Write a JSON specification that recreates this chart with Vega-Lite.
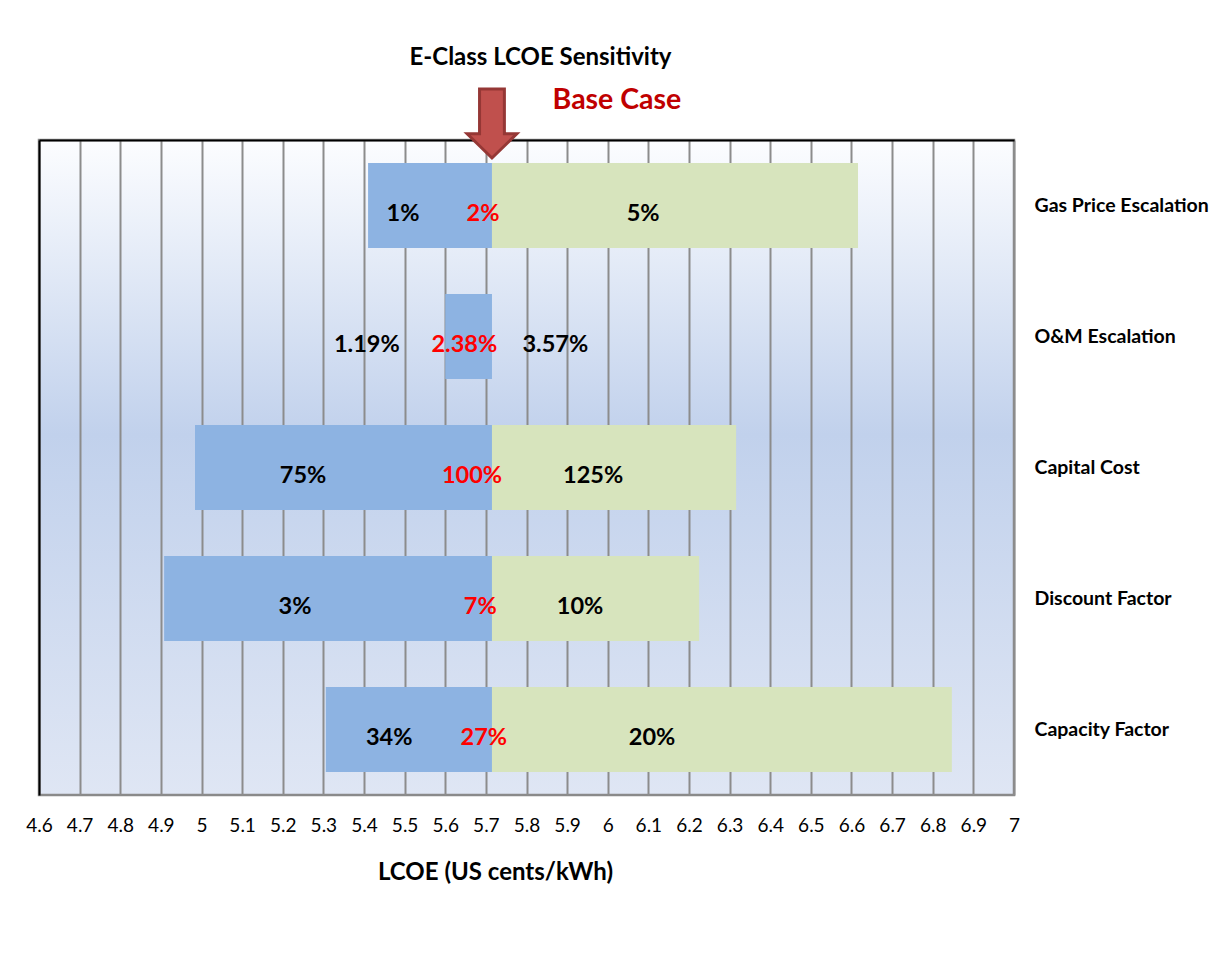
{
  "$schema": "https://vega.github.io/schema/vega-lite/v6.json",
  "width": 975,
  "height": 655,
  "autosize": {"type": "none"},
  "padding": {"left": 39, "top": 140, "right": 202, "bottom": 159},
  "background": "white",
  "config": {
    "font": "Lato",
    "view": {
      "stroke": "#8a8a8a",
      "strokeWidth": 2.5,
      "fill": {
        "gradient": "linear",
        "x1": 0, "y1": 0, "x2": 0, "y2": 1,
        "stops": [
          {"offset": 0, "color": "#fcfdff"},
          {"offset": 0.45, "color": "#c1d1ec"},
          {"offset": 1, "color": "#dfe6f4"}
        ]
      }
    }
  },
  "title": {
    "text": "E-Class LCOE Sensitivity",
    "font": "Lato",
    "fontSize": 24,
    "fontWeight": "bold",
    "color": "#000000",
    "anchor": "middle",
    "dx": 14,
    "offset": 13
  },
  "datasets": {
    "bars": [
      {"factor": "Gas Price Escalation", "side": "low", "start": 5.41, "end": 5.715},
      {"factor": "Gas Price Escalation", "side": "high", "start": 5.715, "end": 6.616},
      {"factor": "O&M Escalation", "side": "low", "start": 5.6, "end": 5.715},
      {"factor": "Capital Cost", "side": "low", "start": 4.984, "end": 5.715},
      {"factor": "Capital Cost", "side": "high", "start": 5.715, "end": 6.316},
      {"factor": "Discount Factor", "side": "low", "start": 4.908, "end": 5.715},
      {"factor": "Discount Factor", "side": "high", "start": 5.715, "end": 6.225},
      {"factor": "Capacity Factor", "side": "low", "start": 5.306, "end": 5.715},
      {"factor": "Capacity Factor", "side": "high", "start": 5.715, "end": 6.847}
    ],
    "labels": [
      {"factor": "Gas Price Escalation", "role": "low", "label": "1%", "pos": 5.496},
      {"factor": "Gas Price Escalation", "role": "base", "label": "2%", "pos": 5.693},
      {"factor": "Gas Price Escalation", "role": "high", "label": "5%", "pos": 6.087},
      {"factor": "O&M Escalation", "role": "low", "label": "1.19%", "pos": 5.407},
      {"factor": "O&M Escalation", "role": "base", "label": "2.38%", "pos": 5.647},
      {"factor": "O&M Escalation", "role": "high", "label": "3.57%", "pos": 5.871},
      {"factor": "Capital Cost", "role": "low", "label": "75%", "pos": 5.25},
      {"factor": "Capital Cost", "role": "base", "label": "100%", "pos": 5.666},
      {"factor": "Capital Cost", "role": "high", "label": "125%", "pos": 5.964},
      {"factor": "Discount Factor", "role": "low", "label": "3%", "pos": 5.23},
      {"factor": "Discount Factor", "role": "base", "label": "7%", "pos": 5.686},
      {"factor": "Discount Factor", "role": "high", "label": "10%", "pos": 5.932},
      {"factor": "Capacity Factor", "role": "low", "label": "34%", "pos": 5.462},
      {"factor": "Capacity Factor", "role": "base", "label": "27%", "pos": 5.695},
      {"factor": "Capacity Factor", "role": "high", "label": "20%", "pos": 6.109}
    ],
    "base": [
      {"factor": "Gas Price Escalation", "base": 5.715, "note": "Base Case"}
    ]
  },
  "layer": [
    {
      "data": {"name": "bars"},
      "transform": [{"filter": "datum.side === 'low'"}],
      "mark": {"type": "bar", "color": "#8db3e2", "cornerRadius": 0},
      "encoding": {
        "y": {
          "field": "factor", "type": "nominal",
          "scale": {
            "domain": ["Gas Price Escalation", "O&M Escalation", "Capital Cost", "Discount Factor", "Capacity Factor"],
            "paddingInner": 0.35, "paddingOuter": 0.175
          },
          "axis": {
            "orient": "right", "title": null, "domain": false, "ticks": false,
            "labelPadding": 20, "labelAlign": "left", "labelFont": "Lato",
            "labelFontSize": 19.5, "labelFontWeight": "bold", "labelColor": "#000000",
            "labelLimit": 300
          }
        },
        "x": {
          "field": "start", "type": "quantitative",
          "scale": {"domain": [4.6, 7], "nice": false, "zero": false},
          "axis": {
            "orient": "bottom",
            "values": [4.6, 4.7, 4.8, 4.9, 5, 5.1, 5.2, 5.3, 5.4, 5.5, 5.6, 5.7, 5.8, 5.9, 6, 6.1, 6.2, 6.3, 6.4, 6.5, 6.6, 6.7, 6.8, 6.9, 7],
            "format": "~g",
            "grid": true, "gridColor": "#8c8c8c", "gridWidth": 2, "gridOpacity": 1,
            "domain": false, "ticks": false,
            "labelPadding": 21, "labelFont": "Lato", "labelFontSize": 19, "labelColor": "#000000",
            "labelFlush": false,
            "title": "LCOE (US cents/kWh)",
            "titleFont": "Lato", "titleFontSize": 24, "titleFontWeight": "bold", "titleColor": "#000000",
            "titleX": 456, "titleY": 77, "titleAlign": "center", "titleBaseline": "middle", "titleAnchor": null
          }
        },
        "x2": {"field": "end"}
      }
    },
    {
      "data": {"name": "bars"},
      "transform": [{"filter": "datum.side === 'high'"}],
      "mark": {"type": "bar", "color": "#d7e4bd"},
      "encoding": {
        "y": {
          "field": "factor", "type": "nominal",
          "axis": {"orient": "left", "domain": true, "domainColor": "#000000", "domainWidth": 2, "labels": false, "ticks": false, "grid": false, "title": null}
        },
        "x": {
          "field": "start", "type": "quantitative",
          "axis": {"orient": "top", "domain": true, "domainColor": "#000000", "domainWidth": 2, "labels": false, "ticks": false, "grid": false, "title": null}
        },
        "x2": {"field": "end"}
      }
    },
    {
      "data": {"name": "labels"},
      "mark": {"type": "text", "font": "Lato", "fontSize": 23.5, "fontWeight": "bold", "align": "center", "baseline": "middle", "dy": 8},
      "encoding": {
        "y": {"field": "factor", "type": "nominal", "axis": null},
        "x": {"field": "pos", "type": "quantitative", "axis": null},
        "text": {"field": "label"},
        "color": {
          "field": "role", "type": "nominal",
          "scale": {"domain": ["low", "base", "high"], "range": ["#000000", "#ff0000", "#000000"]},
          "legend": null
        }
      }
    },
    {
      "data": {"name": "base"},
      "mark": {
        "type": "point",
        "shape": "M -0.36 -1 L 0.36 -1 L 0.36 0.3 L 0.72 0.3 L 0 1 L -0.72 0.3 L -0.36 0.3 Z",
        "filled": true, "fill": "#c0504d", "fillOpacity": 1, "stroke": "#953735", "strokeWidth": 3,
        "size": 4761, "yOffset": -82, "clip": false
      },
      "encoding": {
        "y": {"field": "factor", "type": "nominal", "axis": null},
        "x": {"field": "base", "type": "quantitative", "axis": null}
      }
    },
    {
      "data": {"name": "base"},
      "mark": {
        "type": "text", "font": "Lato", "fontSize": 28.5, "fontWeight": "bold", "color": "#c00000",
        "align": "center", "baseline": "middle", "dx": 125, "dy": -106, "clip": false
      },
      "encoding": {
        "y": {"field": "factor", "type": "nominal", "axis": null},
        "x": {"field": "base", "type": "quantitative", "axis": null},
        "text": {"field": "note"}
      }
    }
  ],
  "resolve": {"axis": {"x": "independent", "y": "independent"}}
}
